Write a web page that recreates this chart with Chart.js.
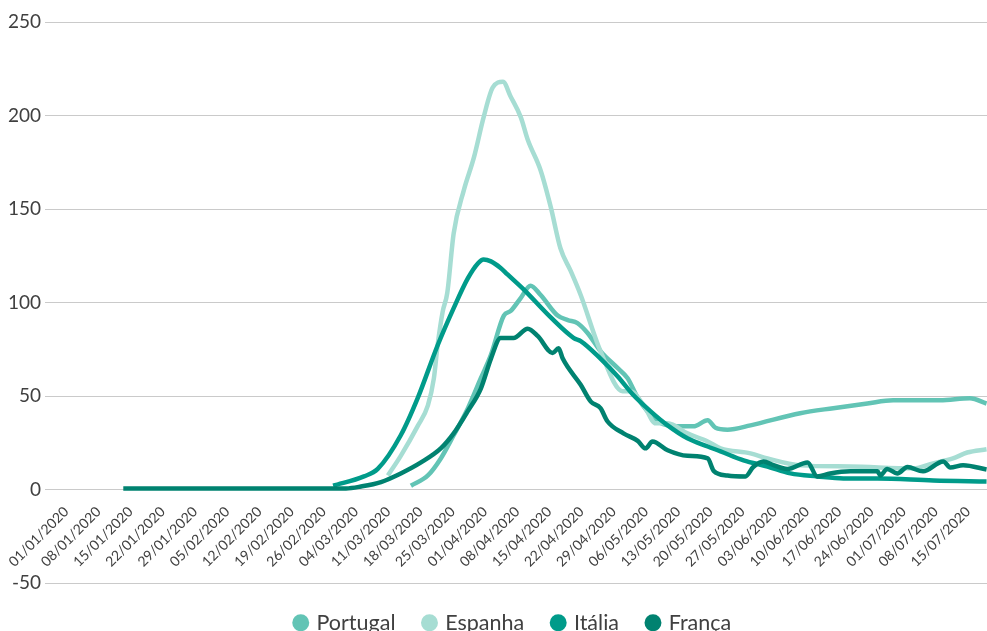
<!DOCTYPE html>
<html>
<head>
<meta charset="utf-8">
<script src="https://cdn.jsdelivr.net/npm/chart.js@4"></script>
<style>
  html, body { margin: 0; padding: 0; background: #fff; }
  #chart { display: block; }
</style>
</head>
<body>
<canvas id="chart" width="987" height="631"></canvas>
<script>
// x values are days since 01/01/2020
const tickLabels = [
  "01/01/2020", "08/01/2020", "15/01/2020", "22/01/2020", "29/01/2020",
  "05/02/2020", "12/02/2020", "19/02/2020", "26/02/2020", "04/03/2020",
  "11/03/2020", "18/03/2020", "25/03/2020", "01/04/2020", "08/04/2020",
  "15/04/2020", "22/04/2020", "29/04/2020", "06/05/2020", "13/05/2020",
  "20/05/2020", "27/05/2020", "03/06/2020", "10/06/2020", "17/06/2020",
  "24/06/2020", "01/07/2020", "08/07/2020", "15/07/2020"
];
const seriesNames = ["Portugal", "Espanha", "Itália", "França"];
const seriesColors = ["#62c4b5", "#a6ddd3", "#009b8a", "#008270"];

const portugalDays = [74.9, 78.6, 81.4, 84.2, 87.3, 90.1, 92.3, 95.1, 96.6, 98.8, 100.9, 103.1,
  106.8, 109, 111.1, 113.3, 116.1, 119.8, 122, 124.2, 126.3, 128.5, 132.8, 136.3, 139.4, 141.1,
  143.7, 148.7, 159.5, 166.7, 174.1, 179.7, 189.9, 196.4, 200];
const portugalValues = [2, 7.5, 16.6, 29, 43.5, 59.5, 72, 93, 95.5, 102.5, 109, 104,
  93, 90.6, 89, 83.7, 74, 65, 59.5, 49, 41.8, 36.5, 33.8, 33.8, 37, 33,
  32, 34.3, 40.8, 43.5, 46, 47.7, 47.7, 48.8, 46];

const espanhaDays = [69.9, 72.7, 76.4, 78.6, 79.9, 80.7, 81.8, 82.8, 84.2, 86.4, 88.6, 90.7,
  92.7, 94.9, 96.6, 98.8, 100.3, 103.1, 105.3, 107.4, 109.6, 111.8, 116.1, 120.9, 122.6, 125.5,
  128.1, 130.7, 135, 139.4, 142.2, 148.7, 152.4, 159.5, 170.4, 184.1, 188.4, 192.7, 195.8, 200];
const espanhaValues = [7.5, 18, 34, 45, 59.5, 77, 95, 105, 137, 160, 177.6, 199,
  215, 218, 210, 199, 187, 170.6, 151, 129, 117, 104, 74, 52.6, 52.6, 45,
  35.4, 35.4, 30, 25.7, 22, 19.3, 16.6, 12.9, 12.3, 11.3, 14, 16.6, 19.8, 21.5];

const italiaDays = [58, 64.7, 67.7, 72.7, 76.4, 80.7, 84.2, 87.3, 89.5, 90.7, 92.3, 94.4,
  95.9, 99.4, 105.3, 110.3, 111.8, 116.1, 119.8, 123.3, 127, 130.7, 135, 139.4, 142.2, 147.2,
  152.4, 157.4, 163.2, 168.9, 176.3, 188.4, 200];
const italiaValues = [2, 7, 11, 29, 49, 77, 97, 113, 121, 123, 122, 118.5,
  115, 107, 92, 81, 79.4, 70, 60.6, 50.4, 41.8, 34.3, 27.4, 23, 20.4, 15.6,
  12.3, 8.6, 7, 5.9, 5.9, 4.8, 4.3];

const francaDays = [12.4, 60.8, 64, 68.4, 72.7, 77.1, 81.4, 84.2, 87.3, 90.1, 92.3, 94.4,
  97.2, 100.3, 102.5, 105.7, 107, 107.9, 111.8, 114, 116.1, 117.6, 121.1, 124.2, 125.9, 127.4,
  130.7, 135, 139.4, 140.7, 143.7, 147.6, 149.3, 151.5, 153.7, 156.7, 161.1, 163.2, 166, 170.4,
  176.3, 176.9, 178.4, 180.6, 182.8, 186.2, 190.6, 192.1, 194.9, 200];
const francaValues = [0.5, 0.6, 1.6, 4, 8.6, 14.5, 22, 30, 42, 54, 70, 81,
  81, 86, 82, 73, 75.6, 70, 56, 47, 43.5, 36.5, 30, 26, 22, 25.7,
  21, 18, 16.6, 10, 7.5, 7, 12, 15, 13, 11, 14.5, 7, 8.6, 9.7,
  9.7, 7.5, 11, 8.6, 12, 9.7, 15, 11.8, 13, 10.7];

const seriesDays = [portugalDays, espanhaDays, italiaDays, francaDays];
const seriesValues = [portugalValues, espanhaValues, italiaValues, francaValues];

const textColor = "#404040";
const fontFamily = "Lato, 'Open Sans', sans-serif";

const datasets = seriesNames.map((name, i) => ({
  label: name,
  data: seriesDays[i].map((d, j) => ({ x: d, y: seriesValues[i][j] })),
  borderColor: seriesColors[i],
  backgroundColor: seriesColors[i],
  borderWidth: 4.5,
  pointRadius: 0,
  cubicInterpolationMode: "monotone",
  // later series on top, like the original
  order: seriesNames.length - i,
}));

// squeeze the legend box so it sits low under the -50 line,
// and nudge it sideways to where the original has it
const legendPatch = {
  id: "legendPatch",
  beforeInit(chart) {
    const legend = chart.legend;
    const origFit = legend.fit;
    const origDraw = legend.draw;
    legend.fit = function () {
      origFit.call(this);
      this.height = 48;
    };
    legend.draw = function () {
      const c = this.ctx;
      c.save();
      c.translate(18, 0);
      origDraw.call(this);
      c.restore();
    };
  },
};

const ctx = document.getElementById("chart").getContext("2d");
new Chart(ctx, {
  type: "line",
  data: { datasets: datasets },
  plugins: [legendPatch],
  options: {
    responsive: false,
    animation: false,
    layout: { padding: { top: 22, left: 4, right: 0, bottom: 0 } },
    scales: {
      x: {
        type: "linear",
        position: { y: 0 },
        min: -4.6,
        max: 200.1,
        afterBuildTicks: (scale) => {
          scale.ticks = tickLabels.map((_, i) => ({ value: i * 7 }));
        },
        grid: { display: false },
        border: { display: false },
        ticks: {
          autoSkip: false,
          minRotation: 45,
          maxRotation: 45,
          padding: 6,
          color: textColor,
          font: { family: fontFamily, size: 14 },
          callback: (value, index) => tickLabels[index],
        },
      },
      y: {
        min: -50,
        max: 250,
        grid: { color: "#cacaca", lineWidth: 1, drawTicks: false },
        border: { display: false },
        ticks: {
          stepSize: 50,
          padding: 4,
          color: textColor,
          font: { family: fontFamily, size: 19 },
        },
      },
    },
    plugins: {
      legend: {
        position: "bottom",
        labels: {
          usePointStyle: true,
          pointStyle: "circle",
          boxWidth: 10,
          boxHeight: 12,
          padding: 29,
          color: textColor,
          font: { family: fontFamily, size: 21.5 },
          sort: (a, b) => a.datasetIndex - b.datasetIndex,
          generateLabels: (chart) =>
            Chart.defaults.plugins.legend.labels.generateLabels(chart).map((item) => ({
              ...item,
              lineWidth: 0,
            })),
        },
      },
      tooltip: { enabled: false },
    },
  },
});
</script>
</body>
</html>
